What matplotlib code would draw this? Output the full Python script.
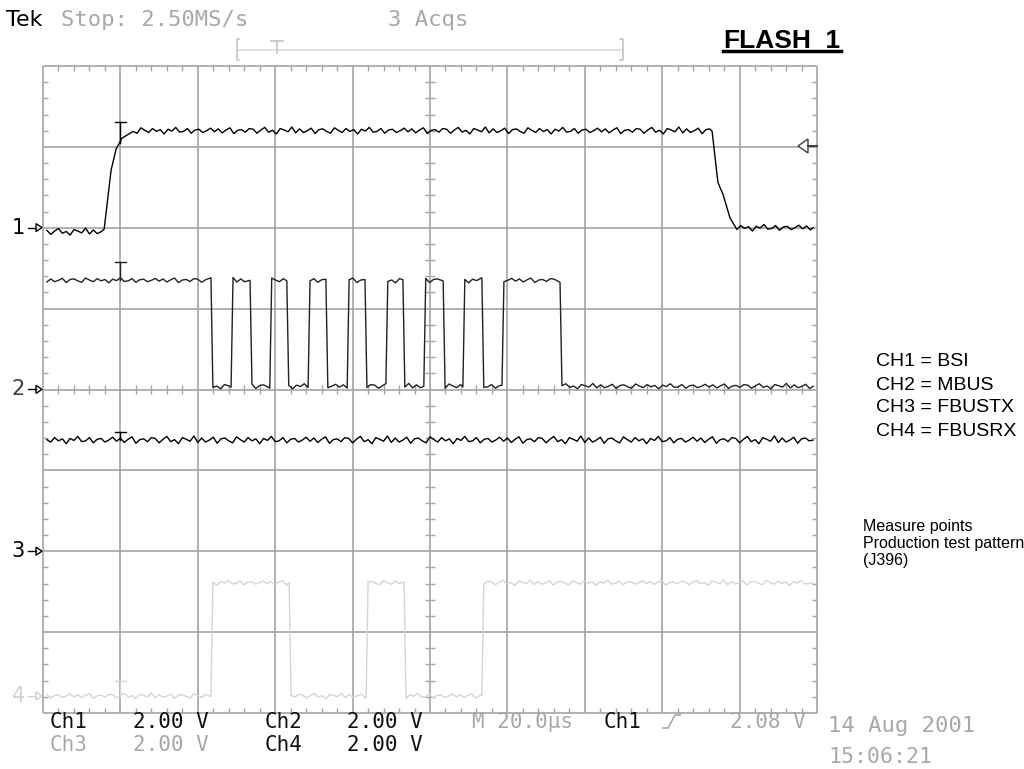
import numpy as np
import matplotlib.pyplot as plt
from matplotlib.collections import LineCollection
from matplotlib.patches import Polygon
from matplotlib.lines import Line2D

W, H = 1024, 769

# scope screen: 10 div x 20 us/div, 8 div x 2 V/div
t_div = 20.0
v_div = 2.0

# ground position of each channel (divisions from the bottom)
ground = [6.0, 4.0, 2.0, 0.21]

# CH1 = BSI, breakpoints (us, V)
ch1_t = [1.0, 15.8, 17.6, 18.9, 20.4, 23.3, 172.9, 174.4, 175.7, 177.5, 179.3, 199.0]
ch1_v = [-0.1, -0.1, 1.50, 1.92, 2.17, 2.40, 2.40, 1.18, 0.76, 0.24, 0.0, 0.0]

# CH2 = MBUS, edge times (us), starts high
ch2_edges = [43.4, 48.6, 53.5, 58.6, 63.0, 68.5, 73.1, 78.6, 83.2,
             88.6, 93.0, 98.4, 103.4, 108.5, 113.4, 118.6, 133.6]
ch2_high = 2.70
ch2_low = 0.08

# CH3 = FBUSTX, flat level
ch3_level = 2.75

# CH4 = FBUSRX, edge times (us), starts low
ch4_edges = [43.4, 63.6, 83.5, 93.3, 113.4]
ch4_high = 2.80
ch4_low = 0.0

# trigger point marker (us) and T heights per channel (V)
trig_t = 20.0
trig_top = [2.61, 3.15, 2.95, 0.37]
trig_bot = [2.10, 2.70, 2.75, 0.0]

# hand typed trace ripple (texture)
ripple = [0.4, -0.7, 0.2, 0.9, -0.4, 0.1, -0.9, 0.6, 0.2, -0.3, 1.0, -0.6, 0.5,
          -0.5, 0.0, 0.7, -0.8, 0.3, 0.5, -0.2, -0.7, 0.8, 0.1, -0.5, 0.6, -0.2,
          0.3, -0.9, 0.4, -0.1, 0.9, -0.4, -0.2, 0.6, -0.7, 0.2, 0.4, -0.5, 0.0,
          0.7, -0.3, 0.5, -0.6, 0.2, 0.8, -0.8, 0.1, 0.3, -0.4, 0.6]


def steps(edges, first, second, t0=1.0, t1=199.0, rise=0.5):
    ts, vs = [t0], [first]
    cur, nxt = first, second
    for e in edges:
        ts += [e, e + rise]
        vs += [cur, nxt]
        cur, nxt = nxt, cur
    ts.append(t1)
    vs.append(cur)
    return ts, vs


def textured(ts, vs, amp, k):
    xs, ys = [], []
    for i in range(len(ts) - 1):
        xs.append(ts[i])
        ys.append(vs[i] + amp * ripple[k % len(ripple)])
        k += 1
        if vs[i] == vs[i + 1] and ts[i + 1] - ts[i] > 2:
            for t in np.arange(ts[i] + 1.0, ts[i + 1] - 0.5, 1.0):
                xs.append(t)
                ys.append(vs[i] + amp * ripple[k % len(ripple)])
                k += 1
    xs.append(ts[-1])
    ys.append(vs[-1])
    return np.array(xs), np.array(ys)


def fp(x, y):
    return x / W, 1 - y / H


fig = plt.figure(figsize=(W / 100, H / 100), dpi=100)
ax = fig.add_axes([43 / W, 1 - 713 / H, 774 / W, 647 / H])
ax.set_xlim(0, 10 * t_div)
ax.set_ylim(0, 8)
ax.axis('off')

gc = '#a4a4a4'
segs = []
for i in range(11):
    segs.append([(i * t_div, 0), (i * t_div, 8)])
for j in range(9):
    segs.append([(0, j), (10 * t_div, j)])
ax.add_collection(LineCollection(segs, colors=gc, linewidths=1.2, clip_on=False))

tx = 5 / 77.4 * t_div
ty = 5 / 80.9
mt = []
for m in range(51):
    x = m * t_div / 5
    if m % 5:
        mt.append([(x, 8), (x, 8 - ty)])
        mt.append([(x, 0), (x, ty)])
        mt.append([(x, 4 - ty), (x, 4 + ty)])
for m in range(41):
    y = m / 5
    if m % 5:
        mt.append([(0, y), (tx, y)])
        mt.append([(10 * t_div, y), (10 * t_div - tx, y)])
        mt.append([(5 * t_div - tx, y), (5 * t_div + tx, y)])
ax.add_collection(LineCollection(mt, colors=gc, linewidths=1.0, clip_on=False))

ch2_t, ch2_v = steps(ch2_edges, ch2_high, ch2_low)
ch3_t, ch3_v = [1.0, 199.0], [ch3_level, ch3_level]
ch4_t, ch4_v = steps(ch4_edges, ch4_low, ch4_high)

traces = [(ch1_t, ch1_v, 0.09, '#000000'),
          (ch2_t, ch2_v, 0.07, '#222222'),
          (ch3_t, ch3_v, 0.10, '#000000'),
          (ch4_t, ch4_v, 0.07, '#d4d4d4')]
for n, (ts, vs, amp, col) in enumerate(traces):
    xs, ys = textured(ts, vs, amp, n * 11)
    ax.plot(xs, ground[n] + ys / v_div, color=col, lw=1.0)
    top = ground[n] + trig_top[n] / v_div
    bot = ground[n] + trig_bot[n] / v_div
    ax.plot([trig_t, trig_t], [top, bot], color=col, lw=1.0)
    ax.plot([trig_t - 1.4, trig_t + 1.4], [top, top], color=col, lw=1.0)

# channel ground markers
for n in range(4):
    gy = 713 - ground[n] * 80.9
    col = '#d0d0d0' if n == 3 else '#000000'
    fig.text(*fp(25, gy), str(n + 1), ha='right', va='center', fontsize=15,
             color=col if n != 1 else '#404040')
    fig.add_artist(Line2D([28 / W, 36 / W], [1 - gy / H] * 2, color=col, lw=1.0))
    fig.add_artist(Polygon([fp(36, gy - 4), fp(36, gy + 4), fp(42, gy)], closed=True,
                           facecolor='white', edgecolor=col, lw=1.0))

# trigger level marker on the right
lv = 146
fig.add_artist(Polygon([fp(798, lv), fp(808, lv - 7), fp(808, lv + 7)], closed=True,
                       facecolor='white', edgecolor='#404040', lw=1.0))
fig.add_artist(Line2D([808 / W, 817 / W], [1 - lv / H] * 2, color='#404040', lw=1.5))

# record bar at the top
bc = '#c4c4c4'
fig.add_artist(Line2D([237 / W, 623 / W], [1 - 50 / H] * 2, color='#dcdcdc', lw=1.2))
fig.add_artist(Line2D([239 / W, 237 / W, 237 / W, 239 / W],
                      [1 - 39 / H, 1 - 39 / H, 1 - 60 / H, 1 - 60 / H], color=bc, lw=1.2))
fig.add_artist(Line2D([620 / W, 623 / W, 623 / W, 620 / W],
                      [1 - 39 / H, 1 - 39 / H, 1 - 60 / H, 1 - 60 / H], color=bc, lw=1.2))
fig.add_artist(Line2D([271 / W, 283 / W], [1 - 41 / H] * 2, color=bc, lw=1.2))
fig.add_artist(Line2D([277 / W, 277 / W], [1 - 41 / H, 1 - 53 / H], color=bc, lw=1.2))

mono = 'DejaVu Sans Mono'
grey = '#a8a8a8'
fig.text(*fp(6, 20), 'Tek', fontsize=16, va='center', color='#000000')
fig.text(*fp(61, 20), 'Stop: 2.50MS/s', fontsize=16, va='center', family=mono, color=grey)
fig.text(*fp(388, 20), '3 Acqs', fontsize=16, va='center', family=mono, color=grey)

fig.text(*fp(723, 40), 'FLASH_1', fontsize=19, va='center', family='Liberation Sans',
         weight='bold', color='#000000')
fig.add_artist(Line2D([723 / W, 841 / W], [1 - 51 / H] * 2, color='#000000', lw=2.5))

# bottom readout
bs = 15
dark = '#111111'
fig.text(*fp(50, 722), 'Ch1', fontsize=bs, va='center', family=mono, color=dark)
fig.text(*fp(133, 722), '2.00 V', fontsize=bs, va='center', family=mono, color=dark)
fig.text(*fp(265, 722), 'Ch2', fontsize=bs, va='center', family=mono, color=dark)
fig.text(*fp(347, 722), '2.00 V', fontsize=bs, va='center', family=mono, color=dark)
fig.text(*fp(472, 722), 'M 20.0µs', fontsize=bs, va='center', family=mono, color=grey)
fig.text(*fp(604, 722), 'Ch1', fontsize=bs, va='center', family=mono, color=dark)
fig.add_artist(Line2D([663 / W, 668 / W, 675 / W, 680 / W],
                      [1 - 728 / H, 1 - 728 / H, 1 - 715 / H, 1 - 715 / H], color=grey, lw=1.2))
fig.text(*fp(730, 722), '2.08 V', fontsize=bs, va='center', family=mono, color=grey)
fig.text(*fp(50, 745), 'Ch3', fontsize=bs, va='center', family=mono, color=grey)
fig.text(*fp(133, 745), '2.00 V', fontsize=bs, va='center', family=mono, color=grey)
fig.text(*fp(265, 745), 'Ch4', fontsize=bs, va='center', family=mono, color=dark)
fig.text(*fp(347, 745), '2.00 V', fontsize=bs, va='center', family=mono, color=dark)
fig.text(*fp(828, 726), '14 Aug 2001', fontsize=16, va='center', family=mono, color=grey)
fig.text(*fp(828, 757), '15:06:21', fontsize=15.5, va='center', family=mono, color=grey)

# notes on the right
arial = 'Liberation Sans'
for k, s in enumerate(['CH1 = BSI', 'CH2 = MBUS', 'CH3 = FBUSTX', 'CH4 = FBUSRX']):
    fig.text(*fp(876, 362 + 23 * k), s, fontsize=14, va='center', family=arial)
for k, s in enumerate(['Measure points', 'Production test pattern', '(J396)']):
    fig.text(*fp(863, 527 + 16.5 * k), s, fontsize=11.5, va='center', family=arial)

fig.savefig('out.png', dpi=100, facecolor='white')
